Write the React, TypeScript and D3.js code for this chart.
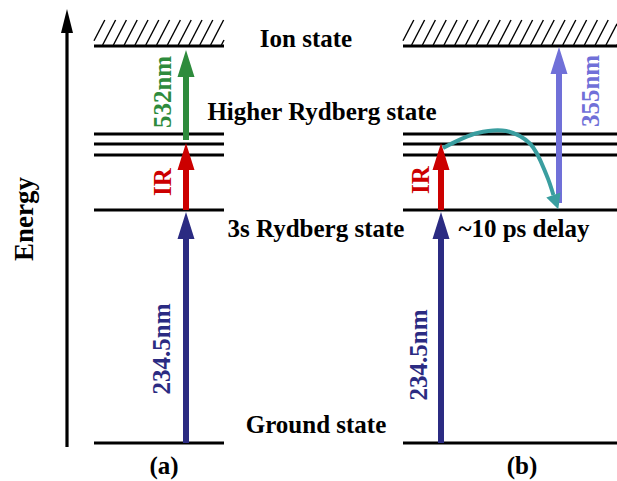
import React from "react";
import * as d3 from "d3";

// Energy levels (arbitrary schematic energy units)
const levelNames = ["Ground state", "3s Rydberg state", "Higher Rydberg state", "Ion state"];
const groundE = 0;
const rydberg3sE = 233;
const higherRydbergE = [309, 299, 288];
const ionE = 397;

// Transitions: panel, from energy, to energy, label, colour
const transitionPanels = ["a", "a", "a", "b", "b", "b"];
const transitionFrom = [0, 233, 303, 0, 233, 240];
const transitionTo = [231, 300, 393, 231, 300, 396];
const transitionLabels = ["234.5nm", "IR", "532nm", "234.5nm", "IR", "355nm"];
const transitionColors = ["#2b2b82", "#cc0000", "#2e8b3c", "#2b2b82", "#cc0000", "#7070d8"];

// delay curve in panel b (relative x units 0..1 across span, energy)
const delayCurveX = [0, 0.3, 0.55, 0.76, 0.9, 0.96];
const delayCurveE = [295, 310, 312, 299, 268, 248];

const panelLabels = ["(a)", "(b)"];

export default function App() {
  const W = 617, H = 481;
  const y = d3.scaleLinear().domain([groundE, ionE]).range([443, 46]);
  const panelX: Record<string, [number, number]> = { a: [94, 224], b: [403, 617] };
  const arrowX: Record<string, number[]> = { a: [186, 186, 186], b: [441, 441, 559] };
  const labelX: Record<string, number[]> = { a: [170, 171, 171], b: [427, 429, 599] };
  const labelY: Record<string, number[]> = { a: [349, 182, 92], b: [355, 180, 91] };
  const font = "'Liberation Serif', 'Times New Roman', serif";

  const hatch = (x0: number, x1: number) => {
    const lines: JSX.Element[] = [];
    const top = 20, bot = y(ionE) - 1;
    const dx = 13;
    for (let x = x0 - dx; x < x1; x += 10.8) {
      let xa = x, ya = bot, xb = x + dx, yb = top;
      if (xa < x0) { const tt = (x0 - x) / dx; ya = bot + (top - bot) * tt; xa = x0; }
      if (xb > x1) { const tt = (x1 - x) / dx; yb = bot + (top - bot) * tt; xb = x1; }
      lines.push(<line key={x} x1={xa} y1={ya} x2={xb} y2={yb} stroke="#000" strokeWidth={1.4} />);
    }
    return lines;
  };

  const arrow = (x: number, y0: number, y1: number, color: string, key: string) => {
    const hl = 27, hw = 8.5, sw = 3;
    const pts = [
      [x - sw, y0], [x - sw, y1 + hl], [x - hw, y1 + hl], [x, y1],
      [x + hw, y1 + hl], [x + sw, y1 + hl], [x + sw, y0],
    ];
    return <polygon key={key} points={pts.map(p => p.join(",")).join(" ")} fill={color} />;
  };

  const levels = (p: string) => {
    const [x0, x1] = panelX[p];
    const es = [groundE, rydberg3sE, ...higherRydbergE, ionE];
    return es.map((e, i) => (
      <line key={p + i} x1={x0} x2={x1} y1={y(e)} y2={y(e)} stroke="#000" strokeWidth={3.2} />
    ));
  };

  // delay curve
  const [bx0] = panelX.b;
  const cx = d3.scaleLinear().domain([0, 1]).range([bx0 + 40, bx0 + 155]);
  const curvePts: [number, number][] = delayCurveX.map((v, i) => [cx(v), y(delayCurveE[i])]);
  const curvePath = d3.line().curve(d3.curveCatmullRom.alpha(0.5))(curvePts) || "";
  const last = curvePts[curvePts.length - 1];
  const prev = curvePts[curvePts.length - 2];
  const ang = Math.atan2(last[1] - prev[1], last[0] - prev[0]);
  const hL = 15, hW = 7.5;
  const tip: [number, number] = [last[0] + Math.cos(ang) * hL, last[1] + Math.sin(ang) * hL];
  const b1: [number, number] = [last[0] - Math.sin(ang) * hW, last[1] + Math.cos(ang) * hW];
  const b2: [number, number] = [last[0] + Math.sin(ang) * hW, last[1] - Math.cos(ang) * hW];

  const counts: Record<string, number> = { a: 0, b: 0 };

  return (
    <svg width={W} height={H} style={{ position: "absolute", left: 0, top: 0, background: "#fff" }}
      fontFamily={font} fontWeight="bold">
      {/* Energy axis */}
      <line x1={67} x2={67} y1={447} y2={28} stroke="#000" strokeWidth={3.2} />
      <polygon points="67,9 61,33 73,33" fill="#000" />
      <text transform="translate(33,219) rotate(-90)" textAnchor="middle" fontSize={27}>Energy</text>

      {hatch(94, 224)}
      {hatch(403, 617)}
      {levels("a")}
      {levels("b")}

      {transitionPanels.map((p, i) => {
        const k = counts[p]++;
        const x = arrowX[p][k];
        const y0 = y(transitionFrom[i]);
        const y1 = y(transitionTo[i]);
        return (
          <g key={i}>
            {arrow(x, y0, y1, transitionColors[i], "ar" + i)}
            <text transform={`translate(${labelX[p][k]},${labelY[p][k]}) rotate(-90)`} textAnchor="middle"
              fontSize={25} fill={transitionColors[i]}>{transitionLabels[i]}</text>
          </g>
        );
      })}

      <path d={curvePath} fill="none" stroke="#3a9ea0" strokeWidth={4} />
      <polygon points={[tip, b1, b2].map(p => p.join(",")).join(" ")} fill="#3a9ea0" />

      <text x={306} y={47} textAnchor="middle" fontSize={25}>{levelNames[3]}</text>
      <text x={322} y={120} textAnchor="middle" fontSize={25}>{levelNames[2]}</text>
      <text x={316} y={237} textAnchor="middle" fontSize={25}>{levelNames[1]}</text>
      <text x={524} y={237} textAnchor="middle" fontSize={25}>~10 ps delay</text>
      <text x={316} y={433} textAnchor="middle" fontSize={25}>{levelNames[0]}</text>
      <text x={164} y={474} textAnchor="middle" fontSize={25}>{panelLabels[0]}</text>
      <text x={522} y={474} textAnchor="middle" fontSize={25}>{panelLabels[1]}</text>
    </svg>
  );
}
